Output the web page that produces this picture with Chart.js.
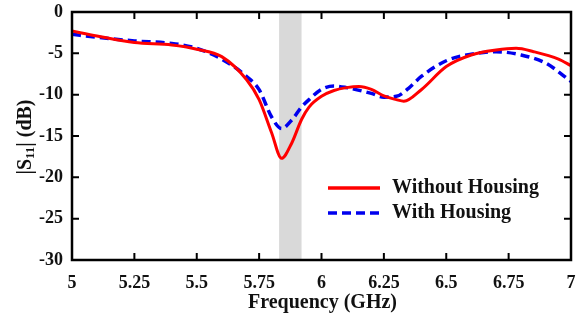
<!DOCTYPE html>
<html lang="en">
<head>
  <meta charset="UTF-8" />
  <title>S11 vs Frequency</title>
  <script src="https://cdn.jsdelivr.net/npm/chart.js"></script>
  <style>
    body { margin: 0; background: #fff; }
    #wrap { width: 587px; height: 322px; }
  </style>
</head>
<body>
  <div id="wrap"><canvas id="s11Chart" width="587" height="322"></canvas></div>

  <script>
    // values
    const freqWithout = [5.0, 5.1, 5.25, 5.4, 5.5, 5.6, 5.7, 5.75, 5.8, 5.84, 5.88, 5.92, 5.95, 6.0, 6.05, 6.1, 6.15, 6.2, 6.25, 6.3, 6.33, 6.4, 6.5, 6.6, 6.7, 6.78, 6.85, 6.95, 7.0];
    const s11Without = [-2.3, -2.9, -3.7, -4.0, -4.5, -5.4, -8.2, -10.6, -14.6, -17.7, -15.9, -13.0, -11.5, -10.2, -9.5, -9.15, -9.0, -9.35, -10.15, -10.6, -10.8, -9.4, -6.6, -5.2, -4.6, -4.4, -4.8, -5.7, -6.5];

    const freqWith = [5.0, 5.1, 5.25, 5.4, 5.5, 5.6, 5.7, 5.75, 5.8, 5.84, 5.88, 5.92, 5.95, 6.0, 6.05, 6.1, 6.2, 6.25, 6.3, 6.35, 6.4, 6.5, 6.6, 6.7, 6.8, 6.9, 7.0];
    const s11With = [-2.7, -3.06, -3.5, -3.8, -4.4, -5.7, -7.8, -9.4, -12.7, -14.1, -13.1, -11.5, -10.6, -9.35, -8.95, -9.15, -9.85, -10.3, -10.2, -9.2, -7.8, -5.9, -5.1, -4.8, -5.2, -6.2, -8.4];

    const seriesLabels = ["Without Housing", "With Housing"];
    const bandRange = [5.83, 5.92];   // shaded band (GHz)
    const xTicks = [5, 5.25, 5.5, 5.75, 6, 6.25, 6.5, 6.75, 7];
    const yTicks = [0, -5, -10, -15, -20, -25, -30];

    const serif = "'Liberation Serif', 'Times New Roman', serif";

    function toPoints(xs, ys) {
      return xs.map((x, i) => ({ x: x, y: ys[i] }));
    }

    // shaded band, frame, inward ticks, legend and axis titles
    const decorations = {
      id: "decorations",
      beforeDatasetsDraw(chart) {
        const { ctx, chartArea: a, scales: { x } } = chart;
        const x0 = x.getPixelForValue(bandRange[0]);
        const x1 = x.getPixelForValue(bandRange[1]);
        ctx.save();
        ctx.fillStyle = "#d9d9d9";
        ctx.fillRect(x0, a.top, x1 - x0, a.bottom - a.top);
        ctx.restore();
      },
      afterDatasetsDraw(chart) {
        const { ctx, chartArea: a, scales: { x, y } } = chart;
        ctx.save();
        ctx.strokeStyle = "#000";
        ctx.lineWidth = 2.5;
        ctx.strokeRect(a.left, a.top, a.right - a.left, a.bottom - a.top);

        const len = 7;
        ctx.lineWidth = 2;
        ctx.beginPath();
        xTicks.forEach(v => {
          const px = x.getPixelForValue(v);
          ctx.moveTo(px, a.bottom); ctx.lineTo(px, a.bottom - len);
          ctx.moveTo(px, a.top); ctx.lineTo(px, a.top + len);
        });
        yTicks.forEach(v => {
          const py = y.getPixelForValue(v);
          ctx.moveTo(a.left, py); ctx.lineTo(a.left + len, py);
          ctx.moveTo(a.right, py); ctx.lineTo(a.right - len, py);
        });
        ctx.stroke();

        // legend
        const lx = 328, ly = 188, gap = 25;
        chart.data.datasets.forEach((ds, i) => {
          const yy = ly + i * gap;
          ctx.beginPath();
          ctx.strokeStyle = ds.borderColor;
          ctx.lineWidth = 3.5;
          ctx.setLineDash(ds.borderDash || []);
          ctx.moveTo(lx, yy);
          ctx.lineTo(lx + 52, yy);
          ctx.stroke();
          ctx.setLineDash([]);
          ctx.fillStyle = "#111";
          ctx.font = "bold 20px " + serif;
          ctx.textBaseline = "middle";
          ctx.textAlign = "left";
          ctx.fillText(ds.label, lx + 64, yy);
        });

        // x title
        ctx.fillStyle = "#111";
        ctx.font = "bold 20px " + serif;
        ctx.textAlign = "center";
        ctx.textBaseline = "middle";
        ctx.fillText("Frequency (GHz)", (a.left + a.right) / 2 + 1, 303);

        // y title with subscript
        ctx.translate(26, 137);
        ctx.rotate(-Math.PI / 2);
        const big = "bold 20px " + serif, small = "bold 13px " + serif;
        ctx.font = big;
        const w1 = ctx.measureText("|S").width;
        const w3 = ctx.measureText("| (dB)").width;
        ctx.font = small;
        const w2 = ctx.measureText("11").width;
        let cx = -(w1 + w2 + w3) / 2;
        ctx.textAlign = "left";
        ctx.font = big;
        ctx.fillText("|S", cx, 0);
        cx += w1;
        ctx.font = small;
        ctx.fillText("11", cx, 5);
        cx += w2;
        ctx.font = big;
        ctx.fillText("| (dB)", cx, 0);
        ctx.restore();
      }
    };

    new Chart(document.getElementById("s11Chart"), {
      type: "line",
      data: {
        datasets: [
          {
            label: seriesLabels[0],
            data: toPoints(freqWithout, s11Without),
            borderColor: "#ff0000",
            borderWidth: 3,
            pointRadius: 0,
            cubicInterpolationMode: "monotone",
            fill: false,
          },
          {
            label: seriesLabels[1],
            data: toPoints(freqWith, s11With),
            borderColor: "#0000ee",
            borderWidth: 3.5,
            borderDash: [9, 5],
            pointRadius: 0,
            cubicInterpolationMode: "monotone",
            fill: false,
          },
        ],
      },
      options: {
        responsive: false,
        animation: false,
        layout: { padding: { top: 12, right: 16, left: 0, bottom: 0 } },
        plugins: {
          legend: { display: false },
          tooltip: { enabled: false },
        },
        scales: {
          x: {
            type: "linear",
            min: 5,
            max: 7,
            afterBuildTicks: s => { s.ticks = xTicks.map(v => ({ value: v })); },
            grid: { display: false },
            border: { display: false },
            ticks: {
              color: "#111",
              padding: 5,
              maxRotation: 0,
              callback: v => String(v),
              font: { family: serif, size: 18, weight: "bold" },
            },
            afterFit: s => { s.height = 62; },
          },
          y: {
            min: -30,
            max: 0,
            afterBuildTicks: s => { s.ticks = yTicks.map(v => ({ value: v })); },
            grid: { display: false },
            border: { display: false },
            ticks: {
              color: "#111",
              padding: 1,
              font: { family: serif, size: 18, weight: "bold" },
            },
            afterFit: s => { s.width = 72; },
          },
        },
      },
      plugins: [decorations],
    });
  </script>
</body>
</html>
